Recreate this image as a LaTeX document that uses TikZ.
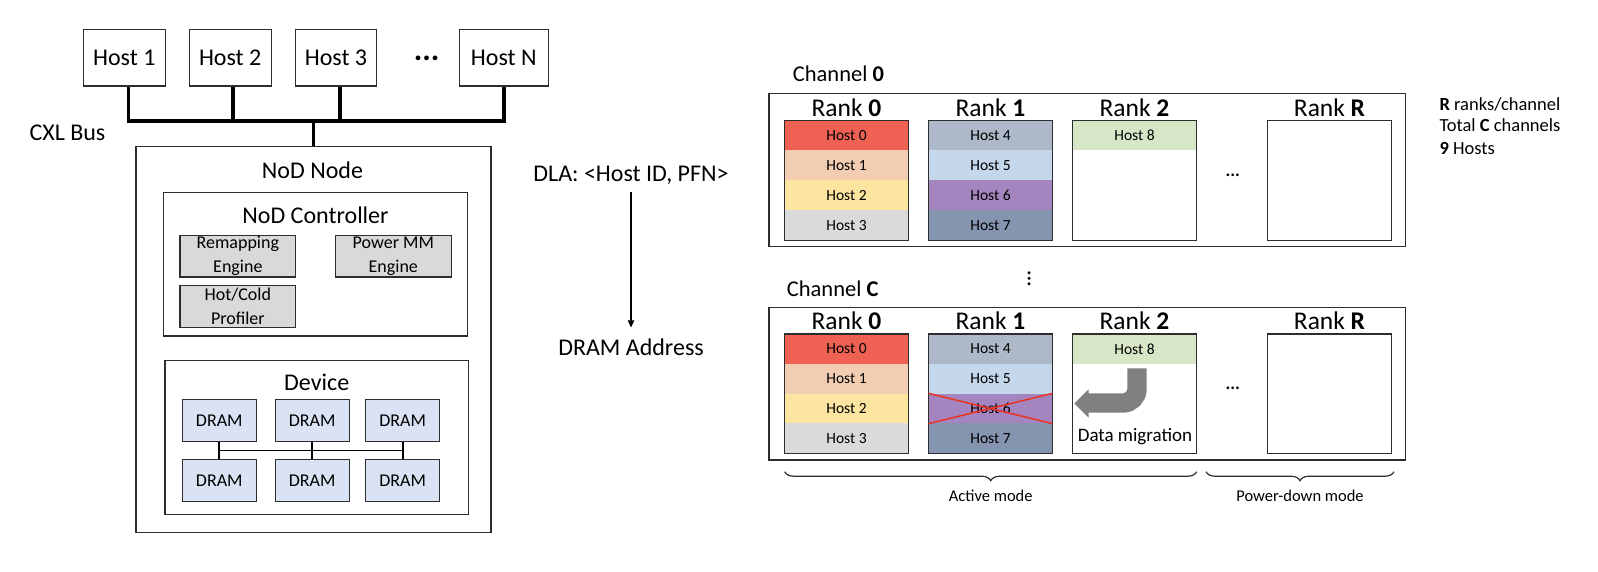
\documentclass[tikz,border=0pt]{standalone}
\usepackage{fontspec}
\setmainfont{Carlito}
\usetikzlibrary{decorations.pathreplacing,calc,arrows.meta}
\definecolor{hc0}{RGB}{238,97,83}
\definecolor{hc1}{RGB}{242,205,178}
\definecolor{hc2}{RGB}{252,229,160}
\definecolor{hc3}{RGB}{218,218,218}
\definecolor{hc4}{RGB}{173,184,201}
\definecolor{hc5}{RGB}{196,215,235}
\definecolor{hc6}{RGB}{165,133,192}
\definecolor{hc7}{RGB}{133,148,175}
\definecolor{hc8}{RGB}{216,230,200}
\definecolor{engfill}{RGB}{217,217,217}
\definecolor{dramfill}{RGB}{218,227,243}
\definecolor{bord}{RGB}{45,45,45}
\definecolor{migr}{RGB}{128,128,128}
\definecolor{crossred}{RGB}{234,51,35}
\begin{document}
\begin{tikzpicture}[x=1pt,y=-1pt,
  fnt/.style={font=\fontsize{#1}{#1}\selectfont},
  bx/.style={draw=bord, line width=1.2pt, inner sep=0pt, fill=white},
  hostbox/.style={bx, fnt=24, minimum height=56.7pt},
  eng/.style={bx, fill=engfill, minimum width=115.7pt, minimum height=41.8pt, align=center, font=\fontsize{18}{24}\selectfont},
  dram/.style={bx, fill=dramfill, minimum width=74pt, minimum height=42.5pt, fnt=18},
  bus/.style={line width=3.6pt, line join=miter},
  dl/.style={line width=1.8pt},
  cell/.style={inner sep=0pt, minimum width=123.6pt, fnt=15.5},
  stk/.style={draw=bord, line width=1.2pt, inner sep=0pt, minimum width=123.6pt},
  rtitle/.style={fnt=25.5, inner sep=0pt},
  chlabel/.style={fnt=22.5, anchor=west, inner sep=0pt},
  lbl/.style={inner sep=0pt},
  legend/.style={inner sep=0pt, fnt=18.5, anchor=base west},
  brace/.style={decorate, decoration={brace, mirror, amplitude=9pt}, draw=bord, line width=1.2pt},
  crs/.style={draw=crossred, line width=1.5pt},
]
\useasboundingbox (0,0) rectangle (1598,572);

% ---------- hosts and CXL bus ----------
\node[hostbox, minimum width=82pt] (h1) at (124.3,57.7) {Host 1};
\node[hostbox, minimum width=82pt] (h2) at (230.2,57.7) {Host 2};
\node[hostbox, minimum width=81.5pt] (h3) at (336,57.7) {Host 3};
\node[lbl, fnt=32] (hdots) at (426.7,58) {\textbf{...}};
\node[hostbox, minimum width=89pt] (hN) at (503.8,57.7) {Host N};
\node[lbl, fnt=24] (cxl) at (67.5,133.3) {CXL Bus};

% ---------- NoD node ----------
\node[bx, minimum width=355pt, minimum height=385.6pt] (nod) at (313.5,339.5) {};
\node[lbl, fnt=24] (nodt) at (312.5,170) {NoD Node};

\coordinate (busy) at (0,121);
\draw[bus] ([xshift=4pt]h1.south) |- (hN.south |- busy) -- (hN.south);
\draw[bus] ([xshift=3pt]h2.south) -- ([xshift=3pt]h2.south |- busy);
\draw[bus] ([xshift=4pt]h3.south) -- ([xshift=4pt]h3.south |- busy);
\draw[bus] (nod.north) -- (nod.north |- busy);

\node[bx, minimum width=304pt, minimum height=143.5pt] (ctl) at (315.5,264.25) {};
\node[lbl, fnt=24] (ctlt) at (315.5,215) {NoD Controller};
\node[eng] (remap) at (237.85,256) {Remapping\\Engine};
\node[eng] (pmm) at (393.3,256) {Power MM\\Engine};
\node[eng] (hcp) at (237.85,306.5) {Hot/Cold\\Profiler};

\node[bx, minimum width=303.7pt, minimum height=153.6pt] (dev) at (316.85,437.5) {};
\node[lbl, fnt=24] (devt) at (316.7,382.7) {Device};
\node[dram] (d1) at (219.3,420.5) {DRAM};
\node[dram] (d2) at (312.2,420.5) {DRAM};
\node[dram] (d3) at (402.7,420.5) {DRAM};
\node[dram] (d4) at (219.3,480.6) {DRAM};
\node[dram] (d5) at (312.2,480.6) {DRAM};
\node[dram] (d6) at (402.7,480.6) {DRAM};
\draw[dl] (d1) -- (d4);
\draw[dl] (d2) -- (d5);
\draw[dl] (d3) -- (d6);
\draw[dl] ($(d1.south)!.5!(d4.north)$) -- ($(d3.south)!.5!(d6.north)$);

% ---------- address translation ----------
\node[lbl, fnt=24] (dla) at (631,175) {DLA: <Host ID, PFN>};
\node[lbl, fnt=24] (dra) at (631,347) {DRAM Address};
\draw[-{Triangle[length=7pt,width=6.5pt]}, line width=1.1pt, shorten <=8pt, shorten >=11pt] (dla) -- (dra);

% ---------- channels ----------
\node[bx, minimum width=636.7pt, minimum height=153.4pt] (ch0) at (1087.35,170) {};
\node[chlabel] (ch0l) at (792.7,74) {Channel \textbf{0}};
\node[bx, minimum width=636.7pt, minimum height=152.7pt] (chC) at (1087.35,383.65) {};
\node[chlabel] (chCl) at (786.7,289) {Channel \textbf{C}};

\foreach \ch/\tp/\rh in {a/120.3/30, b/334/29.8}{
  \foreach \h in {0,...,8}{
    \pgfmathtruncatemacro\rk{int(\h/4)}
    \pgfmathtruncatemacro\rw{mod(\h,4)}
    \pgfmathsetmacro\xc{846.5+144*\rk}
    \pgfmathsetmacro\yc{\tp+\rh*(\rw+0.5)}
    \node[cell, fill=hc\h, minimum height=\rh pt] (\ch h\h) at (\xc,\yc) {Host \h};
  }
  \pgfmathsetmacro\sh{4*\rh}
  \pgfmathsetmacro\sy{\tp+2*\rh}
  \foreach \r/\xc in {0/846.5, 1/990.5, 2/1134.5, R/1329.5}{
    \node[stk, minimum height=\sh pt] (\ch s\r) at (\xc,\sy) {};
    \node[rtitle] (\ch t\r) at (\xc,\tp-13) {Rank \textbf{\r}};
  }
  \node[lbl, fnt=18] (\ch dots) at (1232.7,\tp+54.5) {\textbf{...}};
}

% vertical dots between channels
\foreach \yy in {272.8,278.3,283.8}{
  \fill (1029,\yy) circle (1.7);
}

% removed host 6
\draw[crs] (bh6.north west) -- (bh6.south east);
\draw[crs] (bh6.south west) -- (bh6.north east);

% data migration arrow
\draw[line width=19.4pt, migr, rounded corners=14pt] (1137,368.3) |- (1087.5,403);
\fill[migr] (1088.5,389.5) -- (1074.3,403.5) -- (1088.5,417.5) -- cycle;
\node[lbl, fnt=19] (dm) at (1135,436.7) {Data migration};

% legend
\node[legend] (lg1) at (1439.3,110.5) {\textbf{R} ranks/channel};
\node[legend] (lg2) at (1439.3,132) {Total \textbf{C} channels};
\node[legend] (lg3) at (1439.3,155) {\textbf{9} Hosts};

% braces
\draw[brace] (784.7,471.7) -- (1196.7,471.7);
\draw[brace] (1206,471.7) -- (1394,471.7);
\node[lbl, fnt=16.5] (am) at (990.7,495.7) {Active mode};
\node[lbl, fnt=16.5] (pdm) at (1300,495.7) {Power-down mode};
\end{tikzpicture}
\end{document}
